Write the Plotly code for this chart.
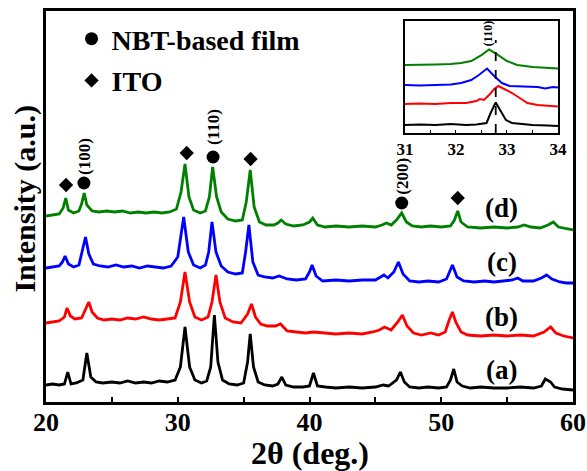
import plotly.graph_objects as go

# ---------------- data (intensity in arbitrary units) ----------------
x_a = [20.0, 20.5, 21.0, 21.4, 21.65, 21.9, 22.3, 22.8, 23.1, 23.4, 23.8, 24.3, 25.0, 25.6, 26.2,
       26.8, 27.4, 28.0, 28.6, 29.2, 29.8, 30.2, 30.55, 30.9, 31.3, 31.8, 32.2, 32.5, 32.78, 33.05,
       33.4, 33.9, 34.5, 35.0, 35.3, 35.5, 35.75, 36.1, 36.6, 37.2, 37.6, 37.9, 38.2, 38.8, 39.5,
       40.0, 40.3, 40.6, 41.2, 42.0, 43.0, 44.0, 45.0, 45.6, 46.0, 46.6, 46.9, 47.2, 47.6, 48.3,
       49.0, 49.8, 50.4, 50.7, 50.95, 51.2, 51.6, 52.2, 53.0, 54.0, 55.0, 56.0, 57.0, 57.6, 57.9,
       58.3, 58.6, 59.2, 60.0]
y_a = [17, 18, 17, 18, 30, 18, 19, 22, 49, 25, 20, 19, 20, 19, 21,
       19, 20, 19, 21, 20, 22, 35, 75, 35, 22, 19, 21, 35, 87, 40,
       22, 18, 17, 19, 40, 68, 35, 20, 17, 16, 18, 25, 17, 15, 15,
       16, 29, 16, 15, 14, 15, 14, 15, 17, 16, 22, 30, 20, 15, 14,
       15, 14, 15, 22, 33, 20, 16, 14, 15, 14, 14, 15, 14, 16, 23,
       20, 15, 13, 12]

x_b = [20.0, 20.5, 21.0, 21.4, 21.6, 21.85, 22.2, 22.7, 23.0, 23.25, 23.5, 23.9, 24.4, 25.0, 25.6,
       26.2, 26.8, 27.4, 28.0, 28.6, 29.2, 29.8, 30.2, 30.55, 30.9, 31.3, 31.8, 32.3, 32.6, 32.9,
       33.2, 33.6, 34.2, 34.8, 35.3, 35.6, 35.9, 36.3, 36.8, 37.4, 37.8, 38.3, 39.0, 39.7, 40.3,
       41.0, 42.0, 43.0, 44.0, 44.8, 45.3, 45.7, 46.2, 46.7, 47.05, 47.4, 47.9, 48.5, 49.2, 49.8,
       50.3, 50.6, 50.85, 51.1, 51.5, 52.0, 53.0, 54.0, 55.0, 56.0, 57.0, 57.8, 58.3, 58.7, 59.3,
       60.0]
y_b = [79, 80, 81, 85, 94, 86, 83, 84, 92, 100, 90, 84, 82, 83, 82,
       84, 83, 85, 83, 82, 83, 84, 100, 130, 100, 85, 82, 85, 100, 127,
       100, 84, 80, 79, 88, 98, 85, 78, 76, 76, 78, 71, 70, 69, 70,
       69, 68, 69, 68, 70, 72, 75, 72, 80, 87, 76, 69, 67, 69, 67,
       70, 82, 90, 80, 70, 67, 66, 67, 66, 67, 66, 70, 75, 69, 66,
       64]

x_c = [20.0, 20.5, 21.0, 21.25, 21.45, 21.7, 22.1, 22.5, 22.75, 23.0, 23.25, 23.6, 24.1, 24.7, 25.3,
       25.9, 26.5, 27.1, 27.7, 28.3, 28.9, 29.5, 30.0, 30.45, 30.8, 31.2, 31.7, 32.1, 32.35, 32.6,
       32.9, 33.3, 33.8, 34.4, 34.9, 35.15, 35.4, 35.7, 36.1, 36.6, 37.2, 37.7, 38.3, 39.0, 39.7,
       40.0, 40.2, 40.5, 41.0, 42.0, 43.0, 44.0, 45.0, 45.4, 45.65, 45.95, 46.4, 46.75, 47.1, 47.6,
       48.3, 49.0, 49.8, 50.4, 50.7, 50.85, 51.2, 51.7, 52.5, 53.3, 54.0, 54.8, 55.4, 55.8, 56.2,
       57.0, 57.6, 58.0, 58.4, 59.0, 59.5, 60.0]
y_c = [134, 135, 136, 140, 146, 138, 135, 137, 150, 165, 148, 138, 136, 135, 137,
       135, 136, 134, 136, 135, 134, 136, 145, 185, 150, 137, 134, 137, 150, 180,
       150, 136, 130, 128, 129, 150, 177, 140, 127, 125, 124, 126, 123, 122, 123,
       130, 137, 126, 121, 122, 121, 122, 122, 125, 127, 124, 130, 140, 128, 121,
       120, 121, 120, 123, 133, 137, 125, 121, 120, 121, 120, 121, 122, 124, 121,
       121, 124, 127, 123, 120, 119, 119]

x_d = [20.0, 20.5, 21.0, 21.3, 21.5, 21.7, 22.1, 22.5, 22.7, 22.9, 23.1, 23.5, 24.0, 24.6, 25.2,
       25.8, 26.4, 27.0, 27.6, 28.2, 28.8, 29.4, 29.9, 30.25, 30.55, 30.85, 31.2, 31.7, 32.1, 32.4,
       32.65, 32.95, 33.3, 33.8, 34.4, 34.9, 35.2, 35.5, 35.8, 36.2, 36.7, 37.3, 37.6, 37.85, 38.2,
       38.8, 39.5, 40.0, 40.25, 40.6, 41.2, 42.0, 43.0, 44.0, 45.0, 45.5, 45.85, 46.2, 46.6, 47.0,
       47.35, 47.8, 48.5, 49.2, 50.0, 50.7, 51.0, 51.25, 51.5, 52.0, 53.0, 54.0, 55.0, 55.8, 56.3,
       56.8, 57.5, 58.1, 58.5, 58.9, 59.5, 60.0]
y_d = [186, 187, 188, 194, 204, 192, 189, 191, 198, 209, 197, 191, 190, 191, 190,
       191, 189, 190, 189, 190, 189, 190, 193, 210, 238, 205, 192, 189, 191, 205,
       235, 205, 190, 183, 181, 182, 200, 232, 195, 180, 177, 177, 179, 182, 178,
       176, 177, 180, 184, 177, 175, 176, 175, 176, 175, 177, 179, 177, 182, 189,
       180, 176, 175, 176, 175, 176, 182, 191, 180, 175, 174, 175, 174, 175, 177,
       175, 174, 177, 180, 175, 173, 172]

# inset (zoom on the (110) reflection)
xi_a = [31.0, 31.3, 31.6, 31.9, 32.2, 32.4, 32.6, 32.68, 32.78, 32.88, 32.98, 33.1, 33.25, 33.5, 33.8, 34.0]
yi_a = [8, 8.5, 8, 9, 8, 8.5, 10, 20, 30.5, 22, 13, 10, 9, 8, 7.5, 7]
xi_b = [31.0, 31.3, 31.6, 31.9, 32.2, 32.4, 32.47, 32.55, 32.65, 32.75, 32.83, 32.95, 33.1, 33.25, 33.4, 33.6, 33.8, 34.0]
yi_b = [29, 29.5, 29, 30, 30, 32, 34, 33, 38, 44, 47, 44, 40, 35, 30, 28, 27, 26.5]
xi_c = [31.0, 31.3, 31.6, 31.9, 32.1, 32.3, 32.45, 32.61, 32.75, 32.9, 33.05, 33.3, 33.6, 33.75, 33.9, 34.0]
yi_c = [48, 47.5, 48, 48.5, 50, 53, 58, 64.5, 57, 50, 47, 46.5, 46, 44.5, 46, 45.5]
xi_d = [31.0, 31.3, 31.6, 31.9, 32.1, 32.3, 32.5, 32.65, 32.8, 33.0, 33.2, 33.5, 33.8, 34.0]
yi_d = [68, 68, 68.5, 69, 70, 72, 78, 83.5, 79, 72, 68, 66, 65, 64.5]
ref_110 = 32.78          # dashed reference position in inset
ref_110_top = 93

# phase markers
nbt_x = [22.88, 32.68, 47.0]
nbt_y = [219, 245, 199]
nbt_hkl = ["(100)", "(110)", "(200)"]
nbt_hkl_y = [246, 275, 226]
ito_x = [21.52, 30.68, 35.53, 51.25]
ito_y = [217, 249, 243, 204]

sample_labels = ["(a)", "(b)", "(c)", "(d)"]
sample_label_x = 54.6
sample_label_y = [32, 85, 140, 194]
colors = ["black", "red", "blue", "green"]

FONT = "Liberation Serif"

fig = go.Figure()

main_x = [x_a, x_b, x_c, x_d]
main_y = [y_a, y_b, y_c, y_d]
for xs, ys, c in zip(main_x, main_y, colors):
    fig.add_trace(go.Scatter(x=xs, y=ys, mode="lines", line=dict(color=c, width=2.8),
                             showlegend=False, hoverinfo="skip"))

ins_x = [xi_a, xi_b, xi_c, xi_d]
ins_y = [yi_a, yi_b, yi_c, yi_d]
for xs, ys, c in zip(ins_x, ins_y, colors):
    fig.add_trace(go.Scatter(x=xs, y=ys, mode="lines", line=dict(color=c, width=2),
                             xaxis="x2", yaxis="y2", showlegend=False, hoverinfo="skip"))

fig.add_trace(go.Scatter(x=nbt_x, y=nbt_y, mode="markers", name="NBT-based film", legend="legend",
                         marker=dict(symbol="circle", size=13, color="black")))
fig.add_trace(go.Scatter(x=ito_x, y=ito_y, mode="markers", name="ITO", legend="legend2",
                         marker=dict(symbol="diamond", size=11, color="black")))

annotations = []
for hx, hy, t in zip(nbt_x, nbt_hkl_y, nbt_hkl):
    annotations.append(dict(x=hx, y=hy, text="<b>%s</b>" % t, textangle=-90, showarrow=False,
                            font=dict(family=FONT, size=17, color="black"), xanchor="center", yanchor="middle"))
for t, ly in zip(sample_labels, sample_label_y):
    annotations.append(dict(x=sample_label_x, y=ly, text="<b>%s</b>" % t, showarrow=False,
                            font=dict(family=FONT, size=27, color="black"), xanchor="center", yanchor="middle"))
annotations.append(dict(x=32.63, y=99, xref="x2", yref="y2", text="<b>(110)</b>", textangle=-90,
                        showarrow=False, font=dict(family=FONT, size=12, color="black")))
# axis titles
annotations.append(dict(x=0.5, y=-0.131, xref="paper", yref="paper", text="<b>2θ (deg.)</b>",
                        showarrow=False, xanchor="center", yanchor="middle",
                        font=dict(family=FONT, size=32, color="black")))
annotations.append(dict(x=-0.04, y=0.52, xref="paper", yref="paper", text="<b>Intensity (a.u.)</b>",
                        textangle=-90, showarrow=False, xanchor="center", yanchor="middle",
                        font=dict(family=FONT, size=30, color="black")))

fig.add_shape(type="line", xref="x2", yref="y2", x0=ref_110, x1=ref_110, y0=0, y1=ref_110_top,
              line=dict(color="black", width=1.8, dash="dash"))

legend_font = dict(family=FONT, size=28, weight="bold", color="black")
fig.update_layout(
    width=587, height=471,
    margin=dict(l=46, r=14, t=11, b=69, autoexpand=False),
    paper_bgcolor="white", plot_bgcolor="white",
    font=dict(family=FONT, color="black"),
    annotations=annotations,
    showlegend=True,
    legend=dict(x=0.0485, y=0.9923, xanchor="left", yanchor="top", bgcolor="rgba(0,0,0,0)", font=legend_font),
    legend2=dict(x=0.0485, y=0.8857, xanchor="left", yanchor="top", bgcolor="rgba(0,0,0,0)", font=legend_font),
    xaxis=dict(range=[20, 60], tickvals=[20, 30, 40, 50, 60], ticks="inside", ticklen=5, tickwidth=1.5,
               tickcolor="black", showline=True, mirror=True, linecolor="black", linewidth=2.5,
               showgrid=False, zeroline=False, automargin=False, ticklabelstandoff=-5,
               minor=dict(dtick=5, ticks="inside", ticklen=5, tickwidth=1.5, tickcolor="black", showgrid=False),
               tickfont=dict(family=FONT, size=26, weight="bold", color="black")),
    yaxis=dict(range=[0, 391], showticklabels=False, ticks="", showline=True, mirror=True,
               linecolor="black", linewidth=2.5, showgrid=False, zeroline=False, automargin=False),
    xaxis2=dict(domain=[0.681, 0.9715], anchor="y2", range=[31, 34], tickvals=[31, 32, 33, 34],
                ticks="inside", ticklen=3, tickwidth=1, tickcolor="black", automargin=False,
                minor=dict(dtick=0.5, ticks="inside", ticklen=3, tickwidth=1, tickcolor="black", showgrid=False),
                showline=True, mirror=True, linecolor="black", linewidth=1.5, showgrid=False, zeroline=False,
                tickfont=dict(family=FONT, size=17, weight="bold", color="black")),
    yaxis2=dict(domain=[0.688, 0.975], anchor="x2", range=[0, 112.3], showticklabels=False, ticks="",
                automargin=False,
                showline=True, mirror=True, linecolor="black", linewidth=1.5, showgrid=False, zeroline=False),
)

fig.write_html("out.html", config={"displayModeBar": False},
               post_script="document.body.style.margin='0px';document.body.style.overflow='hidden';")
